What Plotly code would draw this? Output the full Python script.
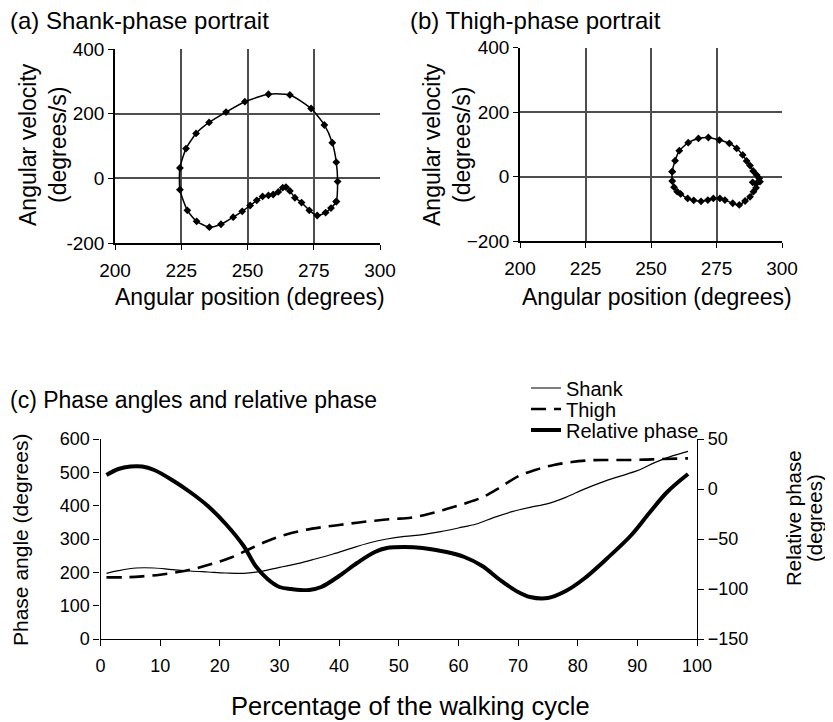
import plotly.graph_objects as go

FONT = "Liberation Sans, Arial, sans-serif"
# page body has an 8px margin, so the figure is drawn 8px in from the window edge
OFF = 8
FW, FH = 833 - OFF, 722 - OFF

# ---------------- data ----------------
# (a) shank phase portrait: angular position (deg), angular velocity (deg/s)
shank_pos = [283.5, 281.5, 279.5, 276.3, 273.3, 270.4, 267.9, 266.0, 264.5, 263.3,
             261.6, 259.7, 257.9, 255.7, 253.5, 251.0, 248.0, 244.6, 240.0, 235.6,
             230.8, 227.3, 224.5, 224.5, 226.8, 230.6, 235.5, 241.9, 249.0, 257.9,
             266.0, 274.0, 279.0, 282.0, 283.5, 284.0, 283.5]
shank_vel = [-72, -92, -106, -115, -99, -75, -60, -39, -27, -29,
             -42, -50, -53, -56, -68, -84, -102, -120, -142, -151,
             -133, -99, -35, 32, 92, 139, 173, 205, 237, 260,
             258, 216, 165, 110, 50, -10, -72]

# (b) thigh phase portrait
thigh_pos = [258.1, 259.2, 260.8, 264.2, 268.1, 271.9, 276.1, 279.9, 282.7, 285.0,
             286.5, 287.8, 289.0, 290.3, 291.3, 291.6, 290.3, 288.8, 290.1, 289.1,
             287.8, 285.9, 283.7, 281.2, 278.2, 276.3, 273.8, 271.7, 269.1, 266.3,
             264.0, 261.3, 260.0, 258.8, 258.1, 258.1]
thigh_vel = [15, 49, 80, 105, 118, 121, 113, 103, 87, 67,
             48, 34, 17, 5, -6, -16, -21, -18, -35, -47,
             -63, -76, -88, -83, -73, -68, -68, -73, -77, -74,
             -68, -54, -47, -33, -14, 15]

# (c) phase angles and relative phase vs percentage of walking cycle
shank_pct = [1, 3, 6, 9, 12, 15, 18, 21, 24, 27, 30, 33, 36, 39, 42, 45, 48, 51,
             54, 57, 60, 63, 66, 69, 72, 75, 78, 81, 84, 87, 90, 93, 96, 98.5]
shank_phase = [197, 205, 213, 213, 208, 204, 201, 198, 197, 203, 215, 226, 240, 255,
               272, 288, 300, 308, 313, 322, 333, 345, 365, 382, 395, 406, 425, 449,
               470, 488, 505, 530, 550, 563]

thigh_pct = [1, 4, 7, 10, 13, 16, 19, 22, 25, 28, 31, 34, 37, 40, 43, 46, 49, 52,
             55, 58, 61, 64, 67, 70, 73, 76, 79, 82, 85, 88, 91, 94, 98.5]
thigh_phase = [185, 185, 188, 193, 201, 212, 227, 245, 270, 294, 313, 326, 335, 342,
               349, 355, 360, 364, 375, 390, 406, 425, 455, 488, 508, 522, 531, 536,
               537, 537, 538, 540, 542]

rel_pct = [1, 3, 5, 7, 9, 12, 15, 18, 21, 24, 26, 28, 30, 32, 35, 37, 40, 43, 46,
           48, 51, 54, 58, 61, 64, 67, 70, 72, 75, 78, 81, 85, 89, 92, 95, 98.5]
rel_phase = [14, 20, 22.5, 22.5, 19, 9, -3, -17, -35, -57, -77, -90, -98, -100, -101,
             -98, -87, -74, -63, -59, -58, -59, -63, -68, -77, -91, -103, -108, -109,
             -102, -90, -69, -46, -24, -3, 15]

portrait_x_ticks = [200, 225, 250, 275, 300]
portrait_y_ticks = [-200, 0, 200, 400]
portrait_a_y_text = ["-200", "0", "200", "400"]

# ---------------- helpers (window pixel -> paper fraction) ----------------
def px_x(p):
    return (p - OFF) / FW

def px_y(p):
    return 1 - (p - OFF) / FH

fig = go.Figure()

mk = dict(symbol="diamond", size=6, color="black")
fig.add_trace(go.Scatter(x=shank_pos, y=shank_vel, mode="lines+markers",
                         line=dict(color="black", width=1.5, shape="spline", smoothing=0.6),
                         marker=mk, xaxis="x", yaxis="y", showlegend=False))
fig.add_trace(go.Scatter(x=thigh_pos, y=thigh_vel, mode="lines+markers",
                         line=dict(color="black", width=1.5, shape="spline", smoothing=0.6),
                         marker=mk, xaxis="x2", yaxis="y2", showlegend=False))

fig.add_trace(go.Scatter(x=shank_pct, y=shank_phase, mode="lines", name="Shank",
                         line=dict(color="black", width=1.2, shape="spline"),
                         xaxis="x3", yaxis="y3", legend="legend"))
fig.add_trace(go.Scatter(x=thigh_pct, y=thigh_phase, mode="lines", name="Thigh",
                         line=dict(color="black", width=2.6, dash="15px,8px", shape="spline"),
                         xaxis="x3", yaxis="y3", legend="legend2"))
fig.add_trace(go.Scatter(x=rel_pct, y=rel_phase, mode="lines", name="Relative phase",
                         line=dict(color="black", width=4, shape="spline"),
                         xaxis="x3", yaxis="y4", legend="legend3"))

GRID = "#4d4d4d"
tickfont = dict(family=FONT, size=19, color="black")
tickfont_c = dict(family=FONT, size=18, color="black")

portrait_x = dict(range=[200, 300], tickvals=portrait_x_ticks, showgrid=True,
                  gridcolor=GRID, gridwidth=1.6, showline=True, linecolor="black",
                  linewidth=1.5, ticks="outside", ticklen=5,
                  tickcolor="black", tickfont=tickfont, zeroline=False,
                  automargin=False, ticklabelstandoff=4)
portrait_y = dict(range=[-200, 400], tickvals=portrait_y_ticks, showgrid=True,
                  gridcolor=GRID, gridwidth=1.6, showline=True, linecolor="black",
                  linewidth=1.5, ticks="outside", ticklen=5, tickcolor="black",
                  tickfont=tickfont, zeroline=False, automargin=False)

axis_c = dict(showgrid=False, showline=True, linecolor="black", linewidth=1.2,
              ticks="outside", ticklen=6, tickcolor="black", tickfont=tickfont_c,
              zeroline=False, automargin=False)

def legend_at(x, y):
    return dict(x=px_x(x), y=px_y(y), xanchor="left", yanchor="middle",
                font=dict(family=FONT, size=20, color="black"),
                bgcolor="rgba(0,0,0,0)", borderwidth=0, itemwidth=30)

fig.update_layout(
    width=FW, height=FH,
    margin=dict(l=0, r=0, t=0, b=0),
    paper_bgcolor="white", plot_bgcolor="white",
    font=dict(family=FONT, color="black"),
    xaxis=dict(portrait_x, domain=[px_x(115), px_x(380)], anchor="y"),
    yaxis=dict(portrait_y, domain=[px_y(243), px_y(49)], anchor="x",
               ticktext=portrait_a_y_text),
    xaxis2=dict(portrait_x, domain=[px_x(520), px_x(782)], anchor="y2"),
    yaxis2=dict(portrait_y, domain=[px_y(241), px_y(47.5)], anchor="x2"),
    xaxis3=dict(axis_c, domain=[px_x(100.5), px_x(697)], anchor="y3", range=[0, 100],
                dtick=10, tick0=0, ticklabelstandoff=4),
    yaxis3=dict(axis_c, domain=[px_y(639), px_y(439)], anchor="x3", range=[0, 600],
                dtick=100),
    yaxis4=dict(axis_c, overlaying="y3", side="right", anchor="x3", range=[-150, 50],
                dtick=50),
    legend=legend_at(526, 388),
    legend2=legend_at(526, 409),
    legend3=legend_at(526, 430),
    showlegend=True,
)

def ann(text, x, y, size, angle=0, xanchor="center"):
    fig.add_annotation(text=text, x=px_x(x), y=px_y(y), xref="paper", yref="paper",
                       showarrow=False, textangle=angle, xanchor=xanchor,
                       yanchor="middle", font=dict(family=FONT, size=size, color="black"))

ann("(a) Shank-phase portrait", 8, 20, 24, xanchor="left")
ann("(b) Thigh-phase portrait", 408, 20, 24, xanchor="left")
ann("(c) Phase angles and relative phase", 8, 400, 23, xanchor="left")

ann("Angular position (degrees)", 250, 297, 23)
ann("Angular position (degrees)", 657, 297, 23)
ann("Angular velocity<br>(degrees/s)", 43, 145, 23, angle=-90)
ann("Angular velocity<br>(degrees/s)", 447, 145, 23, angle=-90)
ann("Percentage of the walking cycle", 410, 706, 25.5)
ann("Phase angle (degrees)", 20, 540, 21, angle=-90)
ann("Relative phase", 793, 518, 20.5, angle=-90)
ann("(degrees)", 814, 518, 20.5, angle=-90)

fig.write_html("out.html")
